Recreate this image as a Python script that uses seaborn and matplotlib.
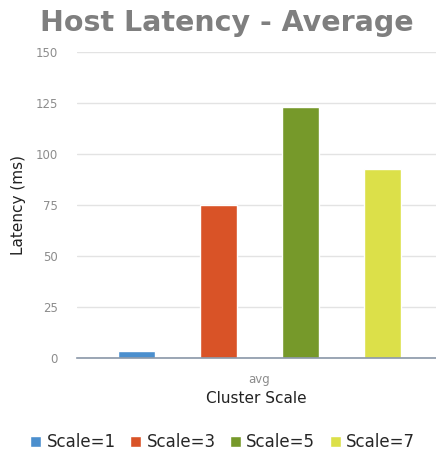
import pandas as pd
import matplotlib.pyplot as plt
import seaborn as sns

# values
scales = ['Scale=1', 'Scale=3', 'Scale=5', 'Scale=7']
latency = [3.5, 75, 123, 92.5]
stat = ['avg', 'avg', 'avg', 'avg']
colors = ['#4b8fce', '#d95327', '#76992a', '#dce049']
yticks = [0, 25, 50, 75, 100, 125, 150]

df = pd.DataFrame({'stat': stat, 'scale': scales, 'latency': latency})

sns.set_style('white')
plt.rcParams['font.family'] = ['DejaVu Sans']

fig = plt.figure(figsize=(4.36, 4.55), dpi=100)
ax = fig.add_axes([0.177, 0.213, 0.823, 0.673])

sns.barplot(data=df, x='stat', y='latency', hue='scale', palette=colors,
            saturation=1, width=0.859, gap=0.55, ax=ax, legend=True)

ax.set_ylim(0, 150)
ax.set_xlim(-0.477, 0.463)
ax.set_yticks(yticks)
ax.yaxis.grid(True, color='#e3e3e3', linewidth=1)
ax.set_axisbelow(True)
for s in ['left', 'right', 'top']:
    ax.spines[s].set_visible(False)
ax.spines['bottom'].set_color('#8a97a8')
ax.spines['bottom'].set_linewidth(1.2)
ax.tick_params(axis='both', length=0, labelsize=8.5, labelcolor='#8c8c8c', pad=14)
ax.tick_params(axis='x', pad=11)

ax.set_xlabel('Cluster Scale', fontsize=11, color='#222222', labelpad=3)
ax.set_ylabel('Latency (ms)', fontsize=11, color='#222222', labelpad=7)

fig.suptitle('Host Latency - Average', x=0.52, y=0.98, fontsize=20.5,
             fontweight='bold', color='#7f7f7f')

ax.legend(loc='center', bbox_to_anchor=(0.405, -0.275), ncol=4, frameon=False,
          fontsize=12, handlelength=0.7, handleheight=0.7, handletextpad=0.3,
          columnspacing=0.85, borderaxespad=0)

plt.savefig('out.png', dpi=100)
